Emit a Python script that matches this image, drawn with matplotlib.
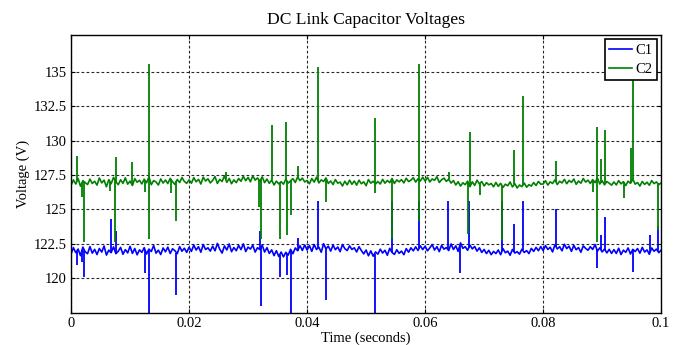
import numpy as np
import matplotlib
matplotlib.use("Agg")
import matplotlib.pyplot as plt

# logged dc-link voltages, one sample every 0.4 ms
SAMPLE_STEP = 0.0004

c1_volts = [
    121.75, 122.22, 121.86, 122.12, 121.64, 122.26, 121.92, 121.78, 122.30, 121.82,
    122.10, 121.72, 122.16, 121.90, 122.34, 121.68, 122.04, 121.86, 122.28, 121.78,
    121.96, 122.24, 121.74, 122.08, 121.84, 122.32, 121.80, 122.16, 121.70, 122.06,
    121.88, 122.22, 121.76, 122.12, 121.94, 122.38, 121.82, 122.04, 121.72, 122.20,
    121.92, 122.26, 121.80, 122.14, 122.00, 121.78, 122.30, 121.96, 122.18, 121.88,
    122.25, 121.95, 122.41, 122.05, 122.29, 121.89, 122.45, 122.09, 122.21, 121.97,
    122.33, 121.99, 122.53, 122.11, 121.83, 122.35, 122.05, 122.49, 121.93, 122.23,
    122.00, 122.38, 122.08, 122.50, 121.94, 122.26, 122.12, 122.40, 121.90, 122.22,
    122.08, 122.40, 121.90, 122.22, 121.80, 122.06, 121.64, 122.00, 121.58, 121.90,
    121.55, 121.88, 121.68, 122.10, 121.78, 122.20, 122.00, 122.36, 122.02, 122.42,
    122.05, 122.37, 121.95, 122.45, 122.09, 122.25, 121.89, 122.51, 122.13, 122.33,
    121.97, 122.41, 122.07, 122.27, 121.93, 122.45, 122.15, 122.01, 122.35, 122.09,
    122.21, 121.91, 122.29, 122.01, 121.77, 122.05, 121.63, 121.99, 121.60, 121.91,
    121.75, 122.11, 121.83, 122.03, 121.67, 122.17, 121.87, 121.73, 122.07, 121.81,
    121.97, 121.71, 122.15, 121.89, 122.21, 121.99, 122.28, 122.02, 122.35, 122.08,
    122.33, 121.99, 122.21, 122.45, 122.05, 122.29, 121.93, 122.39, 122.11, 122.23,
    122.01, 122.49, 122.09, 122.35, 121.95, 122.57, 122.17, 122.29, 122.03, 122.41,
    122.13, 122.31, 121.97, 122.21, 121.87, 122.09, 121.79, 122.03, 121.71, 121.95,
    121.79, 122.05, 121.71, 122.15, 121.85, 121.97, 121.67, 122.09, 121.83, 121.93,
    121.75, 122.11, 121.87, 122.01, 121.79, 122.17, 121.95, 122.24, 122.00, 122.30,
    122.01, 122.37, 122.09, 122.25, 121.91, 122.43, 122.13, 122.29, 121.99, 122.47,
    122.15, 122.33, 121.95, 122.39, 122.07, 122.23, 121.89, 122.35, 122.17, 122.03,
    122.29, 122.09, 122.45, 121.97, 122.21, 121.91, 122.12, 121.84, 122.10, 121.80,
    122.08, 121.80, 122.18, 121.72, 122.04, 121.88, 122.20, 121.76, 122.10, 121.94,
    122.16, 121.82, 122.24, 121.90, 122.06, 121.74, 122.20, 121.96, 122.12, 121.86,
    122.04,
]

c2_volts = [
    126.75, 127.15, 126.85, 127.25, 126.69, 127.09, 126.95, 126.81, 127.21, 126.89,
    127.05, 126.77, 127.29, 126.93, 127.13, 126.65, 127.17, 126.87, 127.33, 127.01,
    126.80, 127.16, 126.90, 127.30, 126.84, 127.06, 126.74, 127.24, 126.98, 127.12,
    126.86, 127.20, 126.94, 127.36, 126.80, 127.10, 127.00, 126.78, 127.22, 126.92,
    127.14, 126.88, 127.26, 127.02, 126.82, 127.18, 126.96, 127.32, 127.04, 126.90,
    127.15, 126.91, 127.31, 127.01, 127.19, 126.85, 127.35, 127.07, 127.23, 126.93,
    127.11, 127.39, 126.89, 127.19, 127.03, 127.45, 126.97, 127.25, 126.87, 127.15,
    126.95, 127.25, 127.05, 127.41, 127.09, 127.33, 127.01, 127.45, 127.13, 127.29,
    127.05, 127.37, 126.95, 127.21, 126.90, 127.14, 126.78, 127.06, 126.86, 127.02,
    126.84, 127.20, 126.92, 127.08, 127.24, 126.96, 127.36, 127.10, 127.28, 127.00,
    127.11, 126.87, 127.25, 126.99, 127.35, 126.93, 127.15, 127.03, 127.29, 126.89,
    127.07, 126.81, 127.17, 126.91, 126.99, 126.71, 127.05, 126.79, 127.13, 126.83,
    127.07, 126.77, 127.13, 126.87, 127.01, 126.73, 127.17, 126.91, 127.05, 126.85,
    127.03, 126.85, 127.19, 126.91, 127.11, 126.95, 127.25, 126.89, 127.15, 127.01,
    127.17, 126.93, 127.27, 127.03, 127.13, 127.31, 126.99, 127.23, 127.07, 127.35,
    127.06, 127.34, 127.00, 127.22, 127.12, 127.38, 126.96, 127.16, 127.28, 127.04,
    127.20, 126.92, 127.10, 126.78, 127.02, 126.70, 126.94, 126.80, 127.06, 126.66,
    127.01, 126.75, 127.13, 126.85, 127.03, 126.71, 126.95, 126.79, 126.89, 126.65,
    126.96, 126.68, 126.90, 126.60, 126.84, 126.72, 127.00, 126.64, 126.88, 126.56,
    126.78, 126.66, 126.92, 126.62, 126.80, 126.70, 126.96, 126.74, 127.04, 126.84,
    126.85, 127.09, 126.77, 127.01, 126.89, 127.15, 126.81, 127.05, 126.93, 127.19,
    126.87, 127.11, 126.97, 127.21, 126.83, 127.07, 126.91, 127.25, 126.99, 127.13,
    126.89, 127.17, 126.95, 127.29, 126.85, 127.09, 126.79, 127.03, 126.91, 126.77,
    127.00, 126.78, 127.10, 126.86, 127.02, 126.74, 127.06, 126.90, 127.20, 126.84,
    126.96, 126.70, 127.04, 126.82, 126.98, 126.76, 127.10, 126.88, 127.00, 126.80,
    126.94,
]

# switching transients: time of each spike and the voltage it reaches
c1_spike_t = [0.00103, 0.00185, 0.00221, 0.00679, 0.0076, 0.01255, 0.01321, 0.01786,
              0.03203, 0.03225, 0.03535, 0.0366, 0.03727, 0.03838, 0.04185, 0.04325,
              0.05144, 0.05439, 0.05897, 0.06384, 0.06583, 0.06738, 0.07306, 0.07513,
              0.07653, 0.08221, 0.08908, 0.08982, 0.09048, 0.0952, 0.09815, 0.09941]
c1_spike_v = [120.96, 121.2, 120.12, 124.33, 123.41, 120.36, 117.0, 118.8,
              123.41, 118.0, 120.12, 120.24, 117.0, 122.96, 125.58, 118.44,
              117.0, 125.58, 125.58, 125.58, 120.36, 125.58, 125.58, 123.92,
              125.6, 125.05, 120.72, 123.13, 124.42, 120.48, 123.13, 123.8]

c2_spike_t = [0.00103, 0.00185, 0.00221, 0.00664, 0.00738, 0.0076, 0.01033, 0.01255,
              0.01321, 0.01321, 0.0169, 0.01786, 0.0262, 0.03188, 0.03225, 0.0340,
              0.03535, 0.03646, 0.0366, 0.03727, 0.03838, 0.04185, 0.04325, 0.05144,
              0.05144, 0.05439, 0.05897, 0.05897, 0.0640, 0.0673, 0.0676, 0.06923,
              0.07306, 0.07513, 0.07653, 0.08221, 0.08849, 0.08908, 0.08908, 0.08974,
              0.09048, 0.09365, 0.09483, 0.0952, 0.09941]
c2_spike_v = [128.89, 125.89, 122.64, 126.37, 122.64, 128.85, 128.44, 126.25,
              135.6, 122.88, 126.18, 124.16, 127.7, 125.17, 122.88, 131.13,
              122.88, 131.37, 123.17, 124.57, 128.15, 135.38, 125.53, 131.66,
              126.18, 122.88, 135.6, 124.16, 127.75, 123.24, 130.63, 126.06,
              122.76, 129.33, 133.25, 128.51, 126.25, 131.03, 122.64, 128.65,
              130.77, 125.82, 129.5, 136.2, 123.49]

c1_color = (0.0, 0.0, 1.0)
c2_color = (0.0, 0.5, 0.0)

plt.rcParams['font.family'] = ['Liberation Serif', 'DejaVu Serif']
plt.rcParams['font.size'] = 10.5

t = np.arange(len(c1_volts)) * SAMPLE_STEP

fig = plt.figure(figsize=(6.83, 3.45), dpi=100)
ax = fig.add_axes([0.104, 0.092, 0.864, 0.807])

ax.plot(t, c1_volts, color=c1_color, lw=1.2, label='C1')
ax.vlines(c1_spike_t, np.interp(c1_spike_t, t, c1_volts), c1_spike_v,
          color=c1_color, lw=1.3)
ax.plot(t, c2_volts, color=c2_color, lw=1.2, label='C2')
ax.vlines(c2_spike_t, np.interp(c2_spike_t, t, c2_volts), c2_spike_v,
          color=c2_color, lw=1.3)

ax.set_xlim(0, 0.1)
ax.set_ylim(117.45, 137.7)
ax.set_xticks([0, 0.02, 0.04, 0.06, 0.08, 0.1])
ax.set_xticklabels(['0', '0.02', '0.04', '0.06', '0.08', '0.1'])
ax.set_yticks([120, 122.5, 125, 127.5, 130, 132.5, 135])
ax.set_yticklabels(['120', '122.5', '125', '127.5', '130', '132.5', '135'])
ax.tick_params(direction='in', length=3, pad=3, top=True, right=True)
ax.grid(True, color='0.15', lw=0.8, linestyle=(0, (2.5, 2)))
for sp in ax.spines.values():
    sp.set_linewidth(1.0)

ax.set_title('DC Link Capacitor Voltages', pad=8)
ax.set_xlabel('Time (seconds)', labelpad=1)
ax.set_ylabel('Voltage (V)', labelpad=3)

leg = ax.legend(loc='upper right', fancybox=False, framealpha=1, edgecolor='black',
                borderpad=0.3, handlelength=1.6, handletextpad=0.2,
                labelspacing=0.4, borderaxespad=0.3)
leg.get_frame().set_linewidth(1.2)

fig.savefig('out.png', dpi=100)
